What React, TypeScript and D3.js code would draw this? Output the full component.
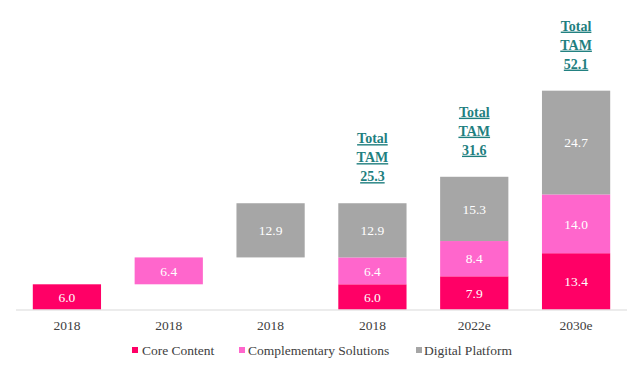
import React from "react";
import * as d3 from "d3";

const categories = ["2018", "2018", "2018", "2018", "2022e", "2030e"];
const coreContent = [6.0, 0, 0, 6.0, 7.9, 13.4];
const complementary = [0, 6.4, 0, 6.4, 8.4, 14.0];
const digitalPlatform = [0, 0, 12.9, 12.9, 15.3, 24.7];
const floatBase = [0, 6.0, 12.4, 0, 0, 0];
const totals = [null, null, null, 25.3, 31.6, 52.1];
const seriesNames = ["Core Content", "Complementary Solutions", "Digital Platform"];
const colors = ["#FF0066", "#FF66CC", "#A6A6A6"];

const W = 639;
const H = 366;
const FONT = "'Liberation Serif', 'Times New Roman', serif";

export default function App() {
  const x = d3
    .scaleBand<number>()
    .domain(categories.map((_, i) => i))
    .range([16, 627])
    .paddingInner(0.33)
    .paddingOuter(0.165);
  const y = d3.scaleLinear().domain([0, 55]).range([309.5, 78.5]);

  const series = [coreContent, complementary, digitalPlatform];

  const segments: { i: number; s: number; y0: number; y1: number; v: number }[] = [];
  categories.forEach((_, i) => {
    let acc = floatBase[i];
    series.forEach((arr, s) => {
      const v = arr[i];
      if (v > 0) {
        segments.push({ i, s, y0: acc, y1: acc + v, v });
        acc += v;
      }
    });
  });

  const legendItems = [
    { name: seriesNames[0], mx: 132, tx: 142 },
    { name: seriesNames[1], mx: 239, tx: 248 },
    { name: seriesNames[2], mx: 416, tx: 424 },
  ];

  return (
    <svg
      width={W}
      height={H}
      style={{ position: "absolute", left: 0, top: 0, background: "#fff" }}
      fontFamily={FONT}
    >
      {segments.map((d, k) => (
        <g key={k}>
          <rect
            x={x(d.i)!}
            width={x.bandwidth()}
            y={y(d.y1)}
            height={y(d.y0) - y(d.y1)}
            fill={colors[d.s]}
          />
          <text
            x={x(d.i)! + x.bandwidth() / 2}
            y={(y(d.y0) + y(d.y1)) / 2}
            dy="0.35em"
            textAnchor="middle"
            fill="#fff"
            fontSize={13.5}
          >
            {d.v.toFixed(1)}
          </text>
        </g>
      ))}
      <line x1={16} x2={627} y1={y(0) + 0.5} y2={y(0) + 0.5} stroke="#D9D9D9" strokeWidth={1} />
      {categories.map((c, i) => (
        <text
          key={i}
          x={x(i)! + x.bandwidth() / 2}
          y={325}
          dy="0.35em"
          textAnchor="middle"
          fill="#404040"
          fontSize={13.5}
        >
          {c}
        </text>
      ))}
      {totals.map((t, i) => {
        if (t == null) return null;
        const top = y(t);
        const cx = x(i)! + x.bandwidth() / 2;
        const lines = ["Total", "TAM", t.toFixed(1)];
        return (
          <g key={i}>
            {lines.map((l, j) => (
              <text
                key={j}
                x={cx}
                y={top - 27 - (2 - j) * 19}
                dy="0.35em"
                textAnchor="middle"
                fill="#1F7F7F"
                fontSize={14}
                fontWeight="bold"
                textDecoration="underline"
              >
                {l}
              </text>
            ))}
          </g>
        );
      })}
      {legendItems.map((l, k) => (
        <g key={k}>
          <rect x={l.mx} y={347} width={6} height={6} fill={colors[k]} />
          <text x={l.tx} y={350} dy="0.35em" fill="#404040" fontSize={13.5}>
            {l.name}
          </text>
        </g>
      ))}
    </svg>
  );
}
